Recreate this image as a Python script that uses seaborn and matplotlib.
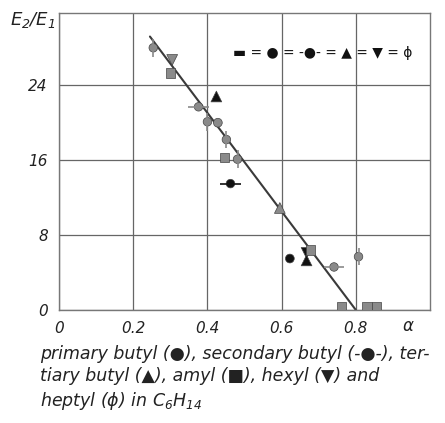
"""
E2/E1 vs alpha for alcohols in C6H14 - recreated figure.
"""

import matplotlib
matplotlib.use("Agg")
import matplotlib.pyplot as plt
import pandas as pd
import seaborn as sns

sns.set_theme(style="white", context="paper")
plt.rcParams["font.family"] = ["DejaVu Sans"]
plt.rcParams["font.style"] = "italic"
plt.rcParams["mathtext.fontset"] = "dejavusans"

GRAY = "#8a8a8a"
BLACK = "#111111"

# data
heptyl_x = [0.254, 0.400, 0.451, 0.481, 0.807]
heptyl_y = [28.0, 20.1, 18.2, 16.1, 5.7]
heptyl_c = ["g", "g", "g", "g", "g"]

hexyl_x = [0.305, 0.667]
hexyl_y = [26.7, 6.1]
hexyl_c = ["g", "k"]

amyl_x = [0.300, 0.446, 0.678, 0.761, 0.830, 0.855]
amyl_y = [25.3, 16.3, 6.4, 0.4, 0.4, 0.4]
amyl_c = ["g", "g", "g", "g", "g", "g"]

tertiary_x = [0.424, 0.595, 0.667]
tertiary_y = [22.8, 10.9, 5.3]
tertiary_c = ["k", "g", "k"]

secondary_x = [0.376, 0.462, 0.741]
secondary_y = [21.7, 13.5, 4.6]
secondary_c = ["g", "k", "g"]

primary_x = [0.428, 0.622]
primary_y = [20.0, 5.5]
primary_c = ["g", "k"]

fit_x = [0.245, 0.800]
fit_y = [29.2, 0.0]

x_ticks = [0, 0.2, 0.4, 0.6, 0.8]
y_ticks = [0, 8, 16, 24]

palette = {"g": GRAY, "k": BLACK}


def frame(x, y, c):
    return pd.DataFrame({"alpha": x, "ratio": y, "shade": c})


fig = plt.figure(figsize=(4.45, 4.23), dpi=100)
ax = fig.add_axes([0.1326, 0.267, 0.834, 0.702])

sns.lineplot(x=fit_x, y=fit_y, color="#3a3a3a", linewidth=1.5, ax=ax, zorder=2)

groups = [
    (heptyl_x, heptyl_y, heptyl_c, "o", 38),
    (hexyl_x, hexyl_y, hexyl_c, "v", 60),
    (amyl_x, amyl_y, amyl_c, "s", 48),
    (tertiary_x, tertiary_y, tertiary_c, "^", 60),
    (secondary_x, secondary_y, secondary_c, "o", 38),
    (primary_x, primary_y, primary_c, "o", 40),
]
for x, y, c, m, s in groups:
    sns.scatterplot(data=frame(x, y, c), x="alpha", y="ratio", hue="shade",
                    palette=palette, marker=m, s=s, edgecolor="#444444",
                    linewidth=0.5, legend=False, ax=ax, zorder=3)

# bars on heptyl (vertical) and secondary butyl (horizontal)
sns.scatterplot(data=frame(heptyl_x, heptyl_y, heptyl_c), x="alpha", y="ratio",
                hue="shade", palette=palette, marker="|", s=160, linewidth=1.2,
                legend=False, ax=ax, zorder=4)
sns.scatterplot(data=frame(secondary_x, secondary_y, secondary_c), x="alpha", y="ratio",
                hue="shade", palette=palette, marker="_", s=220, linewidth=1.2,
                legend=False, ax=ax, zorder=4)

ax.set_xlim(0, 1.0)
ax.set_ylim(0, 31.7)
ax.set_xticks(x_ticks)
ax.set_yticks(y_ticks)
ax.set_xticklabels(["0", "0.2", "0.4", "0.6", "0.8"])
ax.set_yticklabels(["0", "8", "16", "24"])
ax.tick_params(axis="both", length=0, labelsize=11, colors="#222222", pad=8)
ax.grid(True, color="#666666", linewidth=0.9)
for sp in ax.spines.values():
    sp.set_color("#777777")
    sp.set_linewidth(1.0)
ax.set_xlabel("")
ax.set_ylabel("")

ax.text(0.94, -0.055, r"$\alpha$", transform=ax.transAxes, fontsize=12,
        ha="center", va="center", color="#222222")
fig.text(0.022, 0.94, r"$E_2/E_1$", fontsize=13, color="#222222")

ax.text(0.71, 0.865, "\u25ac = \u25cf = -\u25cf- = \u25b2 = \u25bc = \u03d5",
        transform=ax.transAxes, fontsize=10, ha="center", va="center",
        color=BLACK, style="normal")

caption = ("primary butyl (\u25cf), secondary butyl (-\u25cf-), ter-\n"
           "tiary butyl (\u25b2), amyl (\u25a0), hexyl (\u25bc) and\n"
           r"heptyl ($\phi$) in C$_6$H$_{14}$")
fig.text(0.09, 0.185, caption, fontsize=12.5, va="top", ha="left",
         linespacing=1.3, color="#222222")

fig.savefig("out.png", dpi=100)
plt.close(fig)
